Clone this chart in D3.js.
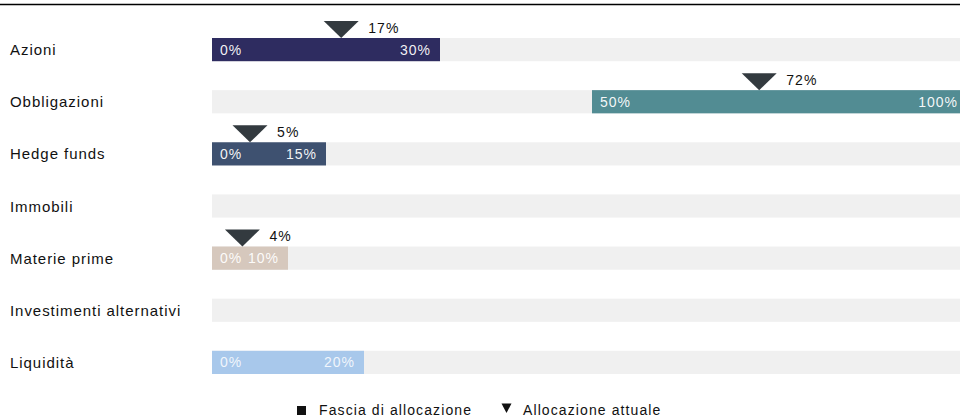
<!DOCTYPE html>
<html><head><meta charset="utf-8">
<script src="https://cdn.jsdelivr.net/npm/d3@7"></script>
<style>body{margin:0;background:#fff}svg{display:block;font-family:"Liberation Sans",Arial,sans-serif}</style>
</head><body><svg id="c" width="960" height="418"></svg>
<script>
const categories = ["Azioni","Obbligazioni","Hedge funds","Immobili","Materie prime","Investimenti alternativi","Liquidità"];
const rangeMin = [0, 50, 0, null, 0, null, 0];
const rangeMax = [30, 100, 15, null, 10, null, 20];
const current = [17, 72, 5, null, 4, null, null];
const colors = ["#2e2c60","#528c93","#3e5170",null,"#d6c8bd",null,"#a8c8eb"];
const legendLabels = ["Fascia di allocazione","Allocazione attuale"];

const W = 960, H = 418;
const svg = d3.select("#c");
const x = d3.scaleLinear().domain([0,100]).range([212,972]);
const y = d3.scaleBand().domain(categories).range([38, 374]).paddingInner(0.555).paddingOuter(0);
const bh = y.bandwidth();

svg.append("line").attr("x1",0).attr("x2",W).attr("y1",4.5).attr("y2",4.5).attr("stroke","#000").attr("stroke-width",1.5);

const rows = svg.selectAll("g.row").data(categories.map((c,i)=>({c,i}))).join("g").attr("class","row");
rows.append("rect").attr("x",x(0)).attr("width",W-x(0)).attr("y",d=>y(d.c)).attr("height",bh).attr("fill","#f0f0f0");
rows.append("text").attr("x",10).attr("y",d=>y(d.c)+bh/2).attr("dy","0.37em").attr("font-size",15).attr("letter-spacing","0.95px").attr("fill","#111").text(d=>d.c);

const withRange = rows.filter(d=>rangeMin[d.i]!==null);
withRange.append("rect").attr("x",d=>x(rangeMin[d.i])).attr("width",d=>x(rangeMax[d.i])-x(rangeMin[d.i]))
  .attr("y",d=>y(d.c)).attr("height",bh).attr("fill",d=>colors[d.i]);
withRange.append("text").attr("x",d=>x(rangeMin[d.i])+8).attr("y",d=>y(d.c)+bh/2).attr("dy","0.36em")
  .attr("font-size",14).attr("letter-spacing","1px").attr("fill","#fff").attr("fill-opacity",d=>d.i===6?0.85:0.95).text(d=>rangeMin[d.i]+"%");
withRange.append("text").attr("x",d=>Math.min(x(rangeMax[d.i])-9, W-2)).attr("y",d=>y(d.c)+bh/2).attr("dy","0.36em")
  .attr("text-anchor","end").attr("font-size",14).attr("letter-spacing","1px").attr("fill","#fff").attr("fill-opacity",d=>d.i===6?0.85:0.95).text(d=>rangeMax[d.i]+"%");

const withCur = rows.filter(d=>current[d.i]!==null);
withCur.append("path").attr("d",d=>{const cx=x(current[d.i]), ty=y(d.c); return `M${cx-17.5},${ty-17}L${cx+17.5},${ty-17}L${cx},${ty}Z`;}).attr("fill","#333a3f");
withCur.append("text").attr("x",d=>x(current[d.i])+27).attr("y",d=>y(d.c)-5.5).attr("font-size",14).attr("letter-spacing","1.1px").attr("fill","#111").text(d=>current[d.i]+"%");

const lg = svg.append("g").attr("font-size",14).attr("letter-spacing","1.1px").attr("fill","#111");
lg.append("rect").attr("x",297).attr("y",406).attr("width",9).attr("height",9).attr("fill","#111");
lg.append("text").attr("x",319).attr("y",415).text(legendLabels[0]);
lg.append("path").attr("d","M501.5,403.5L511.5,403.5L506.5,413Z").attr("fill","#111");
lg.append("text").attr("x",523).attr("y",415).text(legendLabels[1]);
</script></body></html>
